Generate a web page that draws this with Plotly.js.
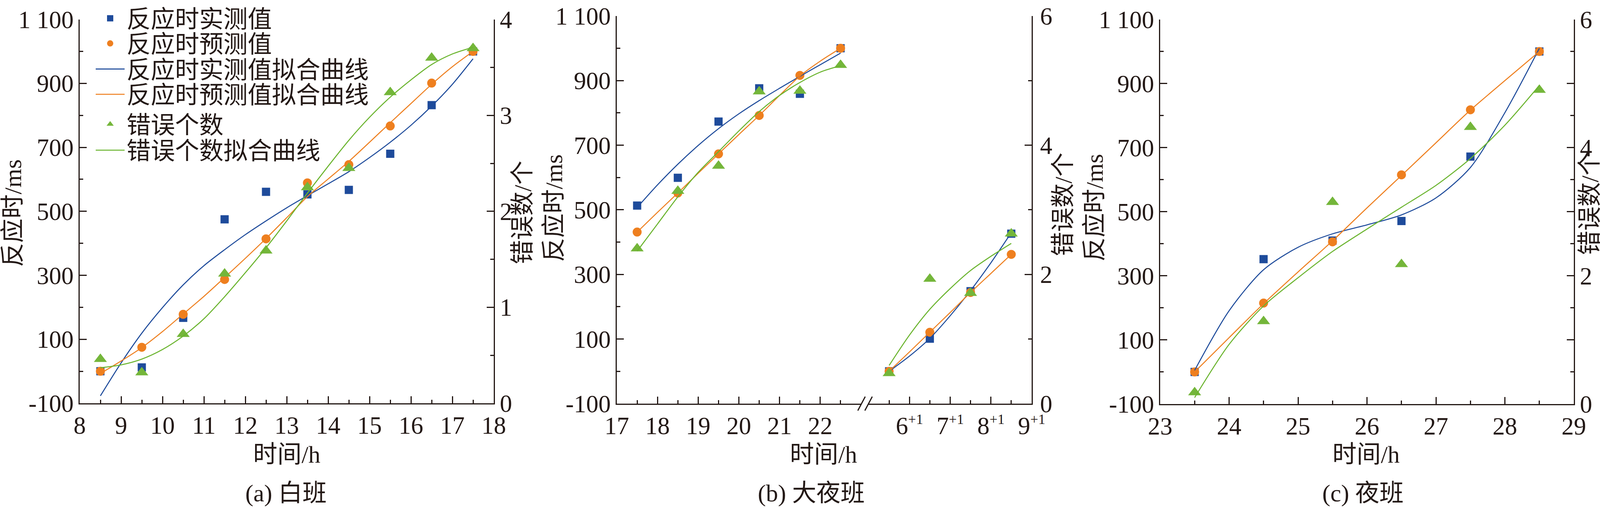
<!DOCTYPE html>
<html>
<head>
<meta charset="utf-8">
<script src="https://cdn.plot.ly/plotly-3.0.1.min.js"></script>
<style>
html,body{margin:0;padding:0;background:#ffffff;}
#chart{width:4149px;height:1300px;}
</style>
</head>
<body>
<div id="chart"></div>
<script>
// ---------------- data ----------------
// (a) 白班
const timeA = [8.5, 9.5, 10.5, 11.5, 12.5, 13.5, 14.5, 15.5, 16.5, 17.5];
const rtMeasuredA = [0, 12, 167, 475, 561, 553, 567, 680, 832, 1000];
const rtPredictedA = [0, 75, 178, 287, 414, 589, 646, 767, 901, 1000];
const errorsA = [0.46, 0.32, 0.72, 1.35, 1.59, 2.25, 2.45, 3.24, 3.60, 3.70];
const fitTimeA = [8.5, 9, 9.5, 10, 10.5, 11, 11.5, 12, 12.5, 13, 13.5, 14, 14.5, 15, 15.5, 16, 16.5, 17, 17.5];
const rtMeasuredFitA = [-77, 26, 119, 199, 270, 330, 380, 427, 470, 511, 549, 586, 624, 668, 716, 769, 829, 897, 977];
const rtPredictedFitA = [-7, 32, 74, 124, 179, 234, 293, 353, 415, 480, 546, 601, 656, 716, 777, 837, 897, 952, 1000];
const errorsFitA = [0.37, 0.40, 0.46, 0.56, 0.70, 0.88, 1.11, 1.36, 1.62, 1.90, 2.19, 2.47, 2.74, 2.98, 3.19, 3.37, 3.53, 3.64, 3.71];

// (b) 大夜班 — evening part and next-morning part
const timeB1 = [17.5, 18.5, 19.5, 20.5, 21.5, 22.5];
const rtMeasuredB1 = [513, 599, 773, 876, 859, 1000];
const rtPredictedB1 = [431, 552, 673, 792, 916, 1000];
const errorsB1 = [2.40, 3.29, 3.68, 4.83, 4.84, 5.24];
const timeB2 = [5.5, 6.5, 7.5, 8.5];
const rtMeasuredB2 = [0, 101, 248, 426];
const rtPredictedB2 = [0, 121, 244, 362];
const errorsB2 = [0.47, 1.93, 1.71, 2.63];
const fitTimeB1 = [17.5, 18, 18.5, 19, 19.5, 20, 20.5, 21, 21.5, 22, 22.5];
const rtMeasuredFitB1 = [507, 577, 641, 699, 751, 797, 838, 876, 913, 949, 985];
const rtPredictedFitB1 = [431, 492, 552, 613, 673, 733, 792, 854, 914, 960, 1000];
const errorsFitB1 = [2.36, 2.78, 3.20, 3.58, 3.90, 4.22, 4.52, 4.77, 4.97, 5.13, 5.23];
const fitTimeB2 = [5.5, 6, 6.5, 7, 7.5, 8, 8.5];
const rtMeasuredFitB2 = [0, 47, 102, 172, 250, 336, 429];
const rtPredictedFitB2 = [0, 60, 121, 182, 244, 303, 362];
const errorsFitB2 = [0.59, 1.06, 1.46, 1.78, 2.06, 2.28, 2.48];

// (c) 夜班
const timeC = [23.5, 24.5, 25.5, 26.5, 27.5, 28.5];
const rtMeasuredC = [0, 352, 410, 471, 672, 1000];
const rtPredictedC = [0, 215, 406, 615, 818, 1000];
const errorsC = [0.18, 1.29, 3.15, 2.18, 4.32, 4.90];
const fitTimeC = [23.5, 24, 24.5, 25, 25.5, 26, 26.5, 27, 27.5, 28, 28.5];
const rtMeasuredFitC = [5, 191, 319, 389, 431, 459, 490, 543, 638, 809, 1010];
const rtPredictedFitC = [0, 107, 213, 312, 409, 512, 613, 715, 817, 909, 1000];
const errorsFitC = [0.10, 0.93, 1.53, 1.97, 2.38, 2.73, 3.07, 3.41, 3.83, 4.35, 4.97];

// ticks
const msTickVals = [-100, 100, 300, 500, 700, 900, 1100];
const msTickText = ['-100', '100', '300', '500', '700', '900', '1 100'];
const msMinorVals = [0, 200, 400, 600, 800, 1000];
const hourTicksA = [8, 9, 10, 11, 12, 13, 14, 15, 16, 17, 18];
const hourMinorA = [8.5, 9.5, 10.5, 11.5, 12.5, 13.5, 14.5, 15.5, 16.5, 17.5];
const hourTicksB1 = [17, 18, 19, 20, 21, 22];
const hourMinorB1 = [17.5, 18.5, 19.5, 20.5, 21.5, 22.5];
const hourTicksB2 = [6, 7, 8, 9];
const hourTextB2 = ['6', '7', '8', '9'];
const nextDaySuffix = '+1';
const hourMinorB2 = [5.5, 6.5, 7.5, 8.5];
const hourTicksC = [23, 24, 25, 26, 27, 28, 29];
const hourMinorC = [23.5, 24.5, 25.5, 26.5, 27.5, 28.5];
const errTicksA = [0, 1, 2, 3, 4];
const errMinorA = [0.5, 1.5, 2.5, 3.5];
const errTicksB = [0, 2, 4, 6];
const errMinorB = [1, 3, 5];
const errTicksC = [0, 1, 2, 3, 4, 5, 6];
const errTextC = ['0', '', '2', '', '4', '', '6'];
const errMinorC = [0.5, 1.5, 2.5, 3.5, 4.5, 5.5];

const legendNames = ['反应时实测值', '反应时预测值', '反应时实测值拟合曲线', '反应时预测值拟合曲线', '错误个数', '错误个数拟合曲线'];
const axisTitles = {ms: '反应时/ms', err: '错误数/个', time: '时间/h'};
const panelTitles = ['(a) 白班', '(b) 大夜班', '(c) 夜班'];

// ---------------- style ----------------
const W = 4149, H = 1300;
const fx = v => v / W;
const fy = v => 1 - v / H;
const FONT = "'Liberation Serif', 'Noto Sans CJK SC', serif";
const INK = '#231815';
const BLUE = '#1E4B9B', ORANGE = '#EE7F1F', GREEN_M = '#74B63A', GREEN_L = '#6AB42E';
const FS = 63;

function axisBase(extra) {
  return Object.assign({
    showline: true, linecolor: INK, linewidth: 3,
    ticks: 'inside', ticklen: 18, tickwidth: 3, tickcolor: INK,
    showgrid: false, zeroline: false, fixedrange: true,
    tickfont: {family: FONT, size: FS, color: INK},
    tickmode: 'array'
  }, extra);
}
function minor(vals) {
  return {ticks: 'inside', ticklen: 9, tickwidth: 3, tickcolor: INK, tickmode: 'array', tickvals: vals, showgrid: false};
}
const titleFont = {family: FONT, size: 62, color: INK};

// ---------------- traces ----------------
function sq(x, y, xa, ya, show, leg) {
  return {type: 'scatter', mode: 'markers', x: x, y: y, xaxis: xa, yaxis: ya, name: legendNames[0],
    marker: {symbol: 'square', size: 21, color: BLUE}, showlegend: show, legend: leg, cliponaxis: false};
}
function ci(x, y, xa, ya, show, leg) {
  return {type: 'scatter', mode: 'markers', x: x, y: y, xaxis: xa, yaxis: ya, name: legendNames[1],
    marker: {symbol: 'circle', size: 23, color: ORANGE}, showlegend: show, legend: leg, cliponaxis: false};
}
function tri(x, y, xa, ya, show, leg) {
  return {type: 'scatter', mode: 'markers', x: x, y: y, xaxis: xa, yaxis: ya, name: legendNames[4],
    marker: {symbol: 'triangle-up', size: 29, color: GREEN_M}, showlegend: show, legend: leg, cliponaxis: false};
}
function fit(x, y, xa, ya, color, name, show, leg) {
  return {type: 'scatter', mode: 'lines', x: x, y: y, xaxis: xa, yaxis: ya, name: name,
    line: {color: color, width: 2.6, shape: 'spline', smoothing: 0.8}, showlegend: show, legend: leg, cliponaxis: false};
}

const traces = [
  // (a)
  sq(timeA, rtMeasuredA, 'x', 'y', true, 'legend'),
  ci(timeA, rtPredictedA, 'x', 'y', true, 'legend2'),
  fit(fitTimeA, rtMeasuredFitA, 'x', 'y', BLUE, legendNames[2], true, 'legend3'),
  fit(fitTimeA, rtPredictedFitA, 'x', 'y', ORANGE, legendNames[3], true, 'legend4'),
  tri(timeA, errorsA, 'x', 'y2', true, 'legend5'),
  fit(fitTimeA, errorsFitA, 'x', 'y2', GREEN_L, legendNames[5], true, 'legend6'),
  // (b) evening
  sq(timeB1, rtMeasuredB1, 'x3', 'y3', false),
  ci(timeB1, rtPredictedB1, 'x3', 'y3', false),
  fit(fitTimeB1, rtMeasuredFitB1, 'x3', 'y3', BLUE, legendNames[2], false),
  fit(fitTimeB1, rtPredictedFitB1, 'x3', 'y3', ORANGE, legendNames[3], false),
  tri(timeB1, errorsB1, 'x3', 'y4', false),
  fit(fitTimeB1, errorsFitB1, 'x3', 'y4', GREEN_L, legendNames[5], false),
  // (b) next morning
  sq(timeB2, rtMeasuredB2, 'x4', 'y3', false),
  ci(timeB2, rtPredictedB2, 'x4', 'y3', false),
  fit(fitTimeB2, rtMeasuredFitB2, 'x4', 'y3', BLUE, legendNames[2], false),
  fit(fitTimeB2, rtPredictedFitB2, 'x4', 'y3', ORANGE, legendNames[3], false),
  tri(timeB2, errorsB2, 'x4', 'y4', false),
  fit(fitTimeB2, errorsFitB2, 'x4', 'y4', GREEN_L, legendNames[5], false),
  // (c)
  sq(timeC, rtMeasuredC, 'x5', 'y5', false),
  ci(timeC, rtPredictedC, 'x5', 'y5', false),
  fit(fitTimeC, rtMeasuredFitC, 'x5', 'y5', BLUE, legendNames[2], false),
  fit(fitTimeC, rtPredictedFitC, 'x5', 'y5', ORANGE, legendNames[3], false),
  tri(timeC, errorsC, 'x5', 'y6', false),
  fit(fitTimeC, errorsFitC, 'x5', 'y6', GREEN_L, legendNames[5], false)
];

// ---------------- legends (panel a) ----------------
const legendRowsY = [38, 103, 169, 234, 311, 378];
function legendAt(i) {
  return {x: fx(240), y: fy(legendRowsY[i]), xanchor: 'left', yanchor: 'middle',
    bgcolor: 'rgba(0,0,0,0)', borderwidth: 0, itemwidth: 74,
    font: {family: FONT, size: 62, color: INK}, itemclick: false, itemdoubleclick: false};
}

function yTitle(text, xPx, yPx) {
  return {text: text, xref: 'paper', yref: 'paper', x: fx(xPx), y: fy(yPx), xanchor: 'center', yanchor: 'middle',
    textangle: -90, showarrow: false, font: titleFont};
}
function hTitle(text, xPx, yPx) {
  return {text: text, xref: 'paper', yref: 'paper', x: fx(xPx), y: fy(yPx), xanchor: 'center', yanchor: 'middle',
    showarrow: false, font: titleFont};
}

const layout = {
  width: W, height: H,
  margin: {l: 0, r: 0, t: 0, b: 0},
  paper_bgcolor: '#ffffff', plot_bgcolor: 'rgba(0,0,0,0)',
  font: {family: FONT, size: FS, color: INK},
  legend: legendAt(0), legend2: legendAt(1), legend3: legendAt(2),
  legend4: legendAt(3), legend5: legendAt(4), legend6: legendAt(5),
  // (a)
  xaxis: axisBase({domain: [fx(204), fx(1264)], range: [8, 18], anchor: 'y',
    tickvals: hourTicksA, minor: minor(hourMinorA)}),
  yaxis: axisBase({domain: [fy(1030), fy(41)], range: [-100, 1100], anchor: 'x',
    tickvals: msTickVals, ticktext: msTickText, minor: minor(msMinorVals)}),
  yaxis2: axisBase({overlaying: 'y', side: 'right', anchor: 'x', range: [0, 4],
    tickvals: errTicksA, minor: minor(errMinorA)}),
  // (b)
  xaxis3: axisBase({domain: [fx(1579), fx(2204)], range: [17, 23], anchor: 'y3',
    tickvals: hourTicksB1, minor: minor(hourMinorB1)}),
  xaxis4: axisBase({domain: [fx(2224), fx(2641)], range: [5, 9], anchor: 'y3',
    tickvals: hourTicksB2,
    ticktext: hourTextB2.map(t => t + '<sup><span style="font-size:36px">' + nextDaySuffix + '</span></sup>'),
    minor: minor(hourMinorB2)}),
  yaxis3: axisBase({domain: [fy(1031), fy(32)], range: [-100, 1100], anchor: 'x3',
    tickvals: msTickVals, ticktext: msTickText, minor: minor(msMinorVals)}),
  yaxis4: axisBase({overlaying: 'y3', side: 'right', anchor: 'x4', range: [0, 6],
    tickvals: errTicksB, minor: minor(errMinorB), ticklabelstandoff: 6}),
  // (c)
  xaxis5: axisBase({domain: [fx(2970), fx(4029)], range: [23, 29], anchor: 'y5',
    tickvals: hourTicksC, minor: minor(hourMinorC)}),
  yaxis5: axisBase({domain: [fy(1032), fy(41)], range: [-100, 1100], anchor: 'x5',
    tickvals: msTickVals, ticktext: msTickText, minor: minor(msMinorVals)}),
  yaxis6: axisBase({overlaying: 'y5', side: 'right', anchor: 'x5', range: [0, 6],
    tickvals: errTicksC, ticktext: errTextC, minor: minor(errMinorC)}),
  shapes: [
    {type: 'line', xref: 'paper', yref: 'paper', x0: fx(2196), y0: fy(1049), x1: fx(2215), y1: fy(1013), line: {color: INK, width: 3}},
    {type: 'line', xref: 'paper', yref: 'paper', x0: fx(2214), y0: fy(1049), x1: fx(2233), y1: fy(1013), line: {color: INK, width: 3}}
  ],
  annotations: [
    // axis titles
    hTitle(axisTitles.time, 734, 1162),
    hTitle(axisTitles.time, 2108, 1162),
    hTitle(axisTitles.time, 3497, 1162),
    yTitle(axisTitles.ms, 33, 540),
    yTitle(axisTitles.err, 1338, 539),
    yTitle(axisTitles.ms, 1418, 527),
    yTitle(axisTitles.err, 2722, 518),
    yTitle(axisTitles.ms, 2802, 526),
    yTitle(axisTitles.err, 4070, 515),
    // panel captions
    hTitle(panelTitles[0], 732, 1262),
    hTitle(panelTitles[1], 2077, 1262),
    hTitle(panelTitles[2], 3489, 1262)
  ]
};

Plotly.newPlot('chart', traces, layout, {displayModeBar: false, staticPlot: true, responsive: false});
</script>
</body>
</html>
